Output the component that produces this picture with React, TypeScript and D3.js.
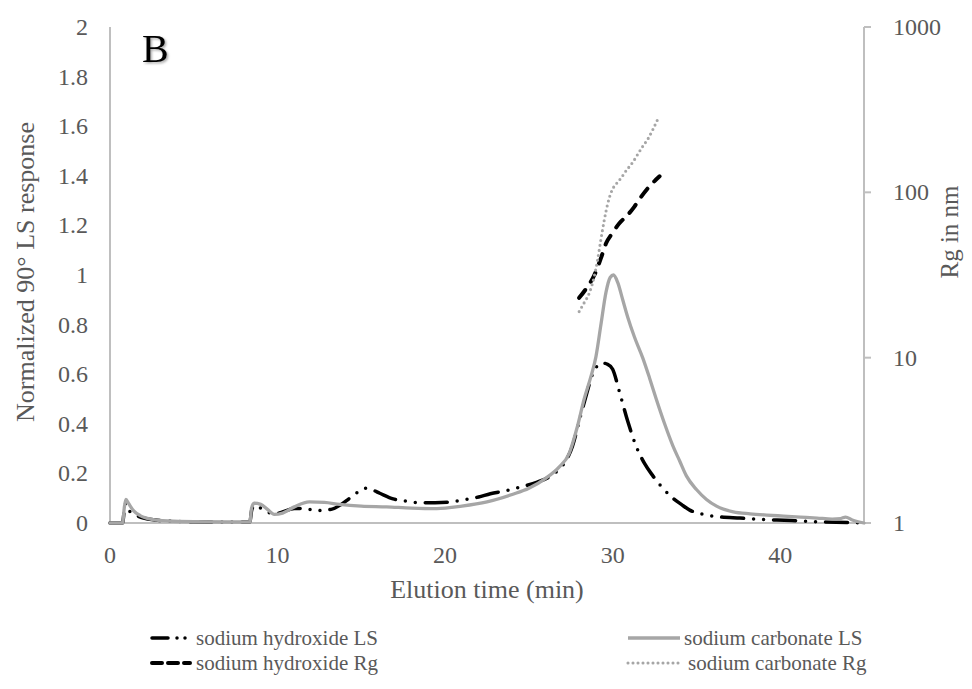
import React from 'react';
import * as d3 from 'd3';

// elution time (min) and normalized LS response, sodium hydroxide
const naohLsTime = [0, 0.75, 0.85, 0.95, 1.2, 1.6, 2, 2.7, 3.5, 5, 7, 8.35, 8.45, 8.6, 9.0, 9.4, 9.8, 10.3, 11.0, 11.6, 12.4, 13.2, 13.8, 14.3, 14.8, 15.2, 15.6, 16.1, 16.9, 17.7, 18.5, 19.4, 20.3, 21.1, 22, 22.7, 23.6, 24.5, 25.5, 26.2, 26.7, 27.2, 27.6, 28.0, 28.4, 28.8, 29.1, 29.35, 29.7, 30.0, 30.4, 30.9, 31.4, 31.9, 32.4, 33.0, 33.6, 34.1, 34.6, 35.1, 35.6, 36.5, 37.6, 38.5, 39.8, 40.7, 42.2, 44, 45];
const naohLsValue = [0, 0, 0.05, 0.08, 0.045, 0.03, 0.02, 0.012, 0.008, 0.005, 0.004, 0.004, 0.05, 0.07, 0.06, 0.045, 0.035, 0.045, 0.058, 0.058, 0.05, 0.055, 0.075, 0.1, 0.125, 0.14, 0.135, 0.12, 0.097, 0.088, 0.082, 0.082, 0.085, 0.093, 0.105, 0.118, 0.13, 0.145, 0.165, 0.185, 0.21, 0.25, 0.31, 0.41, 0.51, 0.6, 0.635, 0.645, 0.64, 0.62, 0.53, 0.41, 0.31, 0.24, 0.19, 0.14, 0.1, 0.075, 0.052, 0.04, 0.032, 0.024, 0.02, 0.016, 0.012, 0.01, 0.005, 0.002, 0];

// sodium carbonate LS
const na2co3LsTime = [0, 0.75, 0.85, 0.95, 1.1, 1.4, 1.8, 2.5, 3.5, 5, 7, 8.35, 8.45, 8.6, 9.0, 9.4, 9.8, 10.3, 11, 11.9, 12.8, 13.7, 15, 16.5, 18, 19.5, 21, 22.5, 24, 25, 26, 26.8, 27.4, 27.9, 28.3, 28.7, 29.0, 29.3, 29.6, 29.85, 30.05, 30.3, 30.6, 30.9, 31.3, 31.8, 32.2, 32.6, 33.1, 33.6, 34.0, 34.4, 35.0, 35.6, 36.2, 37.2, 38.2, 39.2, 40.2, 41.2, 42.2, 43.1, 43.6, 43.9, 44.3, 45];
const na2co3LsValue = [0, 0, 0.06, 0.095, 0.08, 0.05, 0.03, 0.015, 0.008, 0.005, 0.004, 0.004, 0.06, 0.08, 0.075, 0.055, 0.035, 0.04, 0.065, 0.085, 0.083, 0.075, 0.068, 0.065, 0.06, 0.058, 0.068, 0.085, 0.115, 0.14, 0.18, 0.225, 0.28, 0.39, 0.5, 0.59, 0.67, 0.8, 0.93, 0.99, 1.0, 0.97, 0.9, 0.83, 0.75, 0.665, 0.585, 0.5, 0.4, 0.31, 0.25, 0.19, 0.135, 0.095, 0.068, 0.045, 0.037, 0.032, 0.028, 0.024, 0.02, 0.016, 0.018, 0.024, 0.012, 0];

// Rg in nm (log axis)
const naohRgTime = [28.0, 28.4, 28.9, 29.3, 29.6, 30.0, 30.4, 30.9, 31.3, 31.7, 32.1, 32.5, 32.8];
const naohRgValue = [23, 26, 31.5, 40, 49, 57, 65, 73, 82, 94, 106, 117, 125];
const na2co3RgTime = [28.0, 28.3, 28.6, 28.9, 29.1, 29.3, 29.5, 29.7, 30.0, 30.2, 30.5, 30.8, 31.2, 31.5, 31.8, 32.1, 32.4, 32.75];
const na2co3RgValue = [19, 21.5, 24.5, 31, 39, 52, 68, 85, 105, 112, 122, 135, 152, 170, 190, 210, 240, 285];

const xTicks = [0, 10, 20, 30, 40];
const yTicks = [0, 0.2, 0.4, 0.6, 0.8, 1, 1.2, 1.4, 1.6, 1.8, 2];
const rgTicks = [1, 10, 100, 1000];

const legendLabels = ['sodium hydroxide LS', 'sodium carbonate LS', 'sodium hydroxide Rg', 'sodium carbonate Rg'];

const font = '"Liberation Serif", "Times New Roman", serif';
const axisGray = '#bfbfbf';
const textGray = '#595959';
const seriesGray = '#a6a6a6';

const styles = [
  { stroke: '#000', width: 3.5, dash: '22 10 0 10 0 10' },
  { stroke: seriesGray, width: 3.3, dash: '' },
  { stroke: '#000', width: 4, dash: '10 10' },
  { stroke: seriesGray, width: 3.1, dash: '0 5' },
];

export default function App() {
  const x = d3.scaleLinear().domain([0, 45]).range([110, 864]);
  const y = d3.scaleLinear().domain([0, 2]).range([523, 27]);
  const yRg = d3.scaleLog().domain([1, 1000]).range([523, 27]);

  const lsLine = d3.line<[number, number]>().x((d) => x(d[0])).y((d) => y(d[1])).curve(d3.curveMonotoneX);
  const rgLine = d3.line<[number, number]>().x((d) => x(d[0])).y((d) => yRg(d[1])).curve(d3.curveMonotoneX);

  const zip = (a: number[], b: number[]) => a.map((t, i) => [t, b[i]] as [number, number]);
  const paths = [
    lsLine(zip(naohLsTime, naohLsValue)),
    lsLine(zip(na2co3LsTime, na2co3LsValue)),
    rgLine(zip(naohRgTime, naohRgValue)),
    rgLine(zip(na2co3RgTime, na2co3RgValue)),
  ];

  // legend slots: [lineStart, lineEnd, textX, rowY]
  const legendPos = [
    [152, 190, 196, 638],
    [628, 680, 684, 638],
    [152, 190, 196, 663],
    [628, 680, 688, 663],
  ];

  return (
    <svg width={972} height={689} style={{ position: 'absolute', left: 0, top: 0, background: '#fff' }} fontFamily={font}>
      <defs>
        <filter id="shadow" x="-20%" y="-20%" width="140%" height="140%">
          <feDropShadow dx="1.5" dy="1.5" stdDeviation="1" floodColor="#000" floodOpacity="0.35" />
        </filter>
      </defs>

      {/* axes lines */}
      <line x1={110} x2={110} y1={27} y2={523} stroke={axisGray} strokeWidth={2} />
      <line x1={864} x2={864} y1={27} y2={523} stroke={axisGray} strokeWidth={2} />
      <line x1={109} x2={866} y1={523} y2={523} stroke={axisGray} strokeWidth={2} />
      {rgTicks.map((t) => (
        <line key={'rt' + t} x1={864} x2={871} y1={yRg(t)} y2={yRg(t)} stroke={axisGray} strokeWidth={2} />
      ))}

      {/* tick labels */}
      {xTicks.map((t) => (
        <text key={'x' + t} x={x(t)} y={563} textAnchor="middle" fontSize={24} fill={textGray}>{t}</text>
      ))}
      {yTicks.map((t) => (
        <text key={'y' + t} x={88} y={y(t) + 8} textAnchor="end" fontSize={24} fill={textGray}>{+t.toFixed(1)}</text>
      ))}
      {rgTicks.map((t) => (
        <text key={'r' + t} x={893} y={yRg(t) + 8} textAnchor="start" fontSize={24} fill={textGray}>{t}</text>
      ))}

      {/* axis titles */}
      <text x={487} y={598} textAnchor="middle" fontSize={26} fill={textGray}>Elution time (min)</text>
      <text transform="translate(34,272) rotate(-90)" textAnchor="middle" fontSize={26} fill={textGray}>Normalized 90° LS response</text>
      <text transform="translate(958,232) rotate(-90)" textAnchor="middle" fontSize={25} fill={textGray}>Rg in nm</text>

      {/* series */}
      {paths.map((p, i) => (
        <path key={'s' + i} d={p || ''} fill="none" stroke={styles[i].stroke} strokeWidth={styles[i].width}
          strokeDasharray={styles[i].dash || undefined} strokeLinecap="round" strokeLinejoin="round" />
      ))}

      <text x={142} y={62} fontSize={40} fill="#000" filter="url(#shadow)">B</text>

      {/* legend */}
      {legendLabels.map((label, i) => {
        const [x1, x2, tx, ly] = legendPos[i];
        return (
          <g key={'l' + i}>
            <line x1={x1} x2={x2} y1={ly} y2={ly} stroke={styles[i].stroke} strokeWidth={styles[i].width}
              strokeDasharray={i === 0 ? '16 9 0 8 0 8' : i === 2 ? '10 6' : styles[i].dash || undefined}
              strokeLinecap={i === 1 ? 'butt' : 'round'} />
            <text x={tx} y={ly + 7} fontSize={21} fill={textGray}>{label}</text>
          </g>
        );
      })}
    </svg>
  );
}
